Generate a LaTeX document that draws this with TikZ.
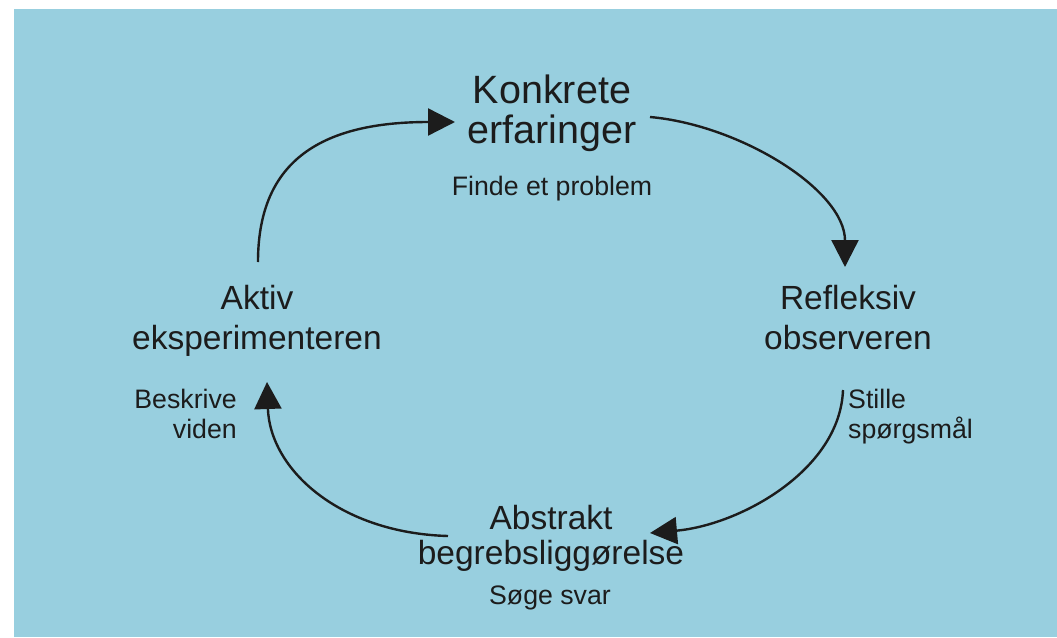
\documentclass[tikz,border=0pt]{standalone}
\usepackage{fontspec}
\setmainfont{Liberation Sans}
\usetikzlibrary{arrows.meta,calc}
\definecolor{bgblue}{RGB}{152,207,223}
\definecolor{ink}{RGB}{28,28,28}

\begin{document}
\begin{tikzpicture}[x=1pt,y=-1pt,
	stage/.style={font=\fontsize{33.5}{39.5}\selectfont,align=center,inner sep=0pt,text=ink,anchor=base},
	topstage/.style={stage,font=\fontsize{39.5}{39.5}\selectfont},
	hint/.style={font=\fontsize{26.7}{30}\selectfont,inner sep=0pt,text=ink,anchor=base},
	cycle/.style={draw=ink,line width=2.4pt,-{Triangle[length=27pt,width=27pt]}}]
	\useasboundingbox (0,0) rectangle (1057,637);
	\fill[bgblue] (14,9) rectangle (1057,637);
	\node[topstage] (konkrete) at (552,143) {Konkrete\\erfaringer};
	\node[hint] (finde) at (552,195) {Finde et problem};
	\node[stage] (refleksiv) at (848,349) {Refleksiv\\observeren};
	\node[hint,anchor=base west,align=left] (stille) at (848,438) {Stille\\spørgsmål};
	\node[stage,font=\fontsize{33.5}{35}\selectfont] (abstrakt) at (551,564) {Abstrakt\\begrebsliggørelse};
	\node[hint] (soege) at (550,604) {Søge svar};
	\node[stage] (aktiv) at (257,349) {Aktiv\\eksperimenteren};
	\node[hint,anchor=base east,align=right] (beskrive) at (237,438) {Beskrive\\viden};
	\draw[cycle] ($(konkrete.base)+(98,-26)$) .. controls +(90,8) and +(0,-77) .. ($(refleksiv.base)+(-3,-82)$);
	\draw[cycle] ($(refleksiv.base)+(-5,41)$) .. controls +(-3,80) and +(90,-8) .. ($(abstrakt.base)+(99,-31)$);
	\draw[cycle] ($(abstrakt.base)+(-103,-28)$) .. controls +(-108,-3) and +(3,88) .. ($(aktiv.base)+(10,33)$);
	\draw[cycle] ($(aktiv.base)+(1,-87)$) .. controls +(0,-98) and +(-138,0) .. ($(konkrete.base)+(-97,-21)$);
\end{tikzpicture}
\end{document}
